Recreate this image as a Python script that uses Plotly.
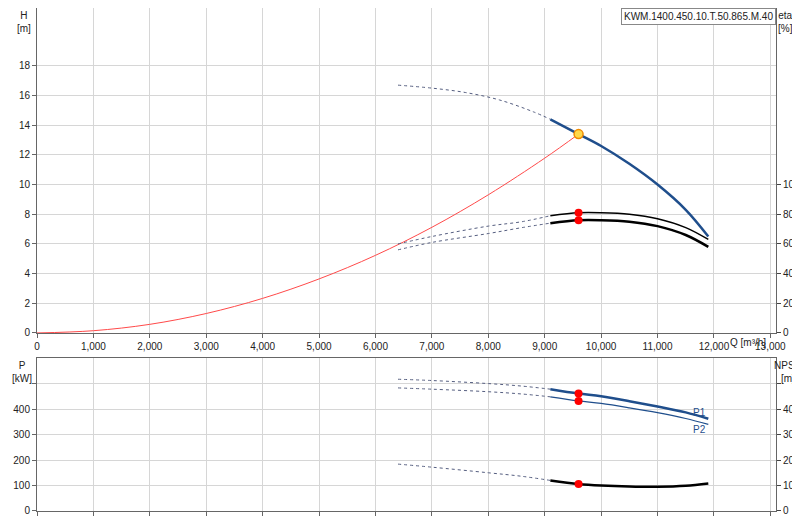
import plotly.graph_objects as go

# pump curve data
q_head = [6400, 7000, 7600, 8200, 8800, 9100, 9600, 10000, 10500, 11000, 11500, 11900]
head = [16.7, 16.5, 16.2, 15.7, 14.9, 14.4, 13.4, 12.6, 11.4, 10.0, 8.3, 6.5]
q_sys = [0, 1000, 2000, 3000, 4000, 5000, 6000, 7000, 8000, 9000, 9600]
h_sys = [0, 0.15, 0.58, 1.31, 2.33, 3.64, 5.23, 7.12, 9.31, 11.78, 13.4]
q_eta = [6400, 7000, 8000, 8600, 9100, 9600, 10000, 10500, 11000, 11500, 11900]
eta1 = [60, 65, 72, 75, 79, 81, 81, 80, 77, 71, 63]
eta2 = [56, 61, 67, 71, 74, 76, 76, 75, 72, 66, 58]
q_p = [6400, 7000, 8000, 8600, 9100, 9600, 10000, 10500, 11000, 11500, 11900]
p1 = [517, 512, 500, 490, 478, 461, 450, 431, 410, 387, 362]
p2 = [483, 478, 468, 459, 448, 432, 422, 405, 386, 363, 340]
npsh = [18.4, 17.2, 15.0, 13.6, 12.0, 10.6, 10.0, 9.6, 9.5, 9.9, 10.8]
duty_q = 9600
split = 9100

grid = "#d6d6d6"
blue = "#1f4e8c"

def part(xs, ys, solid):
    pts = [(a, b) for a, b in zip(xs, ys) if (a >= split if solid else a <= split)]
    return [a for a, _ in pts], [b for _, b in pts]

fig = go.Figure()

def curve(xs, ys, color, width, xa, ya):
    for solid in (False, True):
        px, py = part(xs, ys, solid)
        fig.add_trace(go.Scatter(x=px, y=py, mode="lines", xaxis=xa, yaxis=ya,
                                 line=dict(color=color if solid else "#555e80",
                                           width=width if solid else 1, shape="spline",
                                           dash="solid" if solid else "dot"),
                                 hoverinfo="skip"))

fig.add_trace(go.Scatter(x=q_sys, y=h_sys, mode="lines", line=dict(color="#ff4a4a", width=1, shape="spline"),
                         xaxis="x", yaxis="y"))
curve(q_head, head, blue, 2.5, "x", "y")
curve(q_eta, eta1, "black", 1.5, "x", "y2")
curve(q_eta, eta2, "black", 2.5, "x", "y2")
curve(q_p, p1, blue, 2.5, "x2", "y3")
curve(q_p, p2, blue, 1.2, "x2", "y3")
curve(q_p, npsh, "black", 2.5, "x2", "y4")

fig.add_trace(go.Scatter(x=[duty_q, duty_q], y=[81, 76], mode="markers", xaxis="x", yaxis="y2",
                         marker=dict(color="red", size=8)))
fig.add_trace(go.Scatter(x=[duty_q, duty_q], y=[461, 432], mode="markers", xaxis="x2", yaxis="y3",
                         marker=dict(color="red", size=8)))
fig.add_trace(go.Scatter(x=[duty_q], y=[10.6], mode="markers", xaxis="x2", yaxis="y4",
                         marker=dict(color="red", size=8)))
fig.add_trace(go.Scatter(x=[duty_q], y=[13.4], mode="markers", xaxis="x", yaxis="y",
                         marker=dict(color="#ffd84a", size=9, line=dict(color="#f08a00", width=1.5))))

ax = dict(showgrid=True, gridcolor=grid, zeroline=False, showline=True, linecolor="#666",
          mirror=True, ticks="outside", ticklen=4, tickcolor="#666", automargin=False)
rax = dict(showgrid=False, ticks="outside", ticklen=4, showline=True, linecolor="#666", automargin=False)
fig.update_layout(
    width=800, height=520, showlegend=False, plot_bgcolor="white", paper_bgcolor="white",
    margin=dict(l=29, r=32, t=0, b=17),
    font=dict(family="Liberation Sans, Arial", size=10, color="#222"),
    xaxis=dict(ax, range=[0, 13100], dtick=1000, tickformat=",", anchor="y"),
    xaxis2=dict(ax, range=[0, 13100], dtick=1000, showticklabels=False, anchor="y3"),
    yaxis=dict(ax, domain=[0.354, 1], range=[0, 21.9], tickvals=list(range(0, 20, 2)), mirror=False),
    yaxis2=dict(rax, overlaying="y", side="right", range=[0, 219], tickvals=[0, 20, 40, 60, 80, 100]),
    yaxis3=dict(ax, domain=[0, 0.304], range=[0, 600], tickvals=[0, 100, 200, 300, 400, 500],
                ticktext=["0", "100", "200", "300", "400", ""], mirror=False),
    yaxis4=dict(rax, overlaying="y3", side="right", range=[0, 60], tickvals=[0, 10, 20, 30, 40, 50],
                ticktext=["0", "10", "20", "30", "40", ""]),
)

ann = [
    dict(text="H<br>[m]", x=0, y=1, xanchor="left", yanchor="top", xref="paper", yref="paper", xshift=-22),
    dict(text="eta<br>[%]", x=1, y=1, xanchor="left", yanchor="top", xref="paper", yref="paper", xshift=0),
    dict(text="P<br>[kW]", x=0, y=0.304, xanchor="left", yanchor="top", xref="paper", yref="paper", xshift=-27),
    dict(text="NPSH<br>[m]", x=1, y=0.304, xanchor="left", yanchor="top", xref="paper", yref="paper", xshift=-4),
    dict(text="Q [m³/h]", x=12000, y=0.354, xref="x", yref="paper", xanchor="left", yanchor="top",
         xshift=14, yshift=-2, showarrow=False),
    dict(text="KWM.1400.450.10.T.50.865.M.40", x=1, y=1, xref="paper", yref="paper", xanchor="right",
         yanchor="top", bgcolor="white", bordercolor="#888", borderwidth=1, borderpad=2),
    dict(text="P1", x=11900, y=385, xref="x2", yref="y3", xanchor="right", font=dict(color=blue)),
    dict(text="P2", x=11900, y=320, xref="x2", yref="y3", xanchor="right", font=dict(color=blue)),
]
for a in ann:
    a.setdefault("showarrow", False)
    a["align"] = "center"
fig.update_layout(annotations=ann)

fig.write_html("out.html")
